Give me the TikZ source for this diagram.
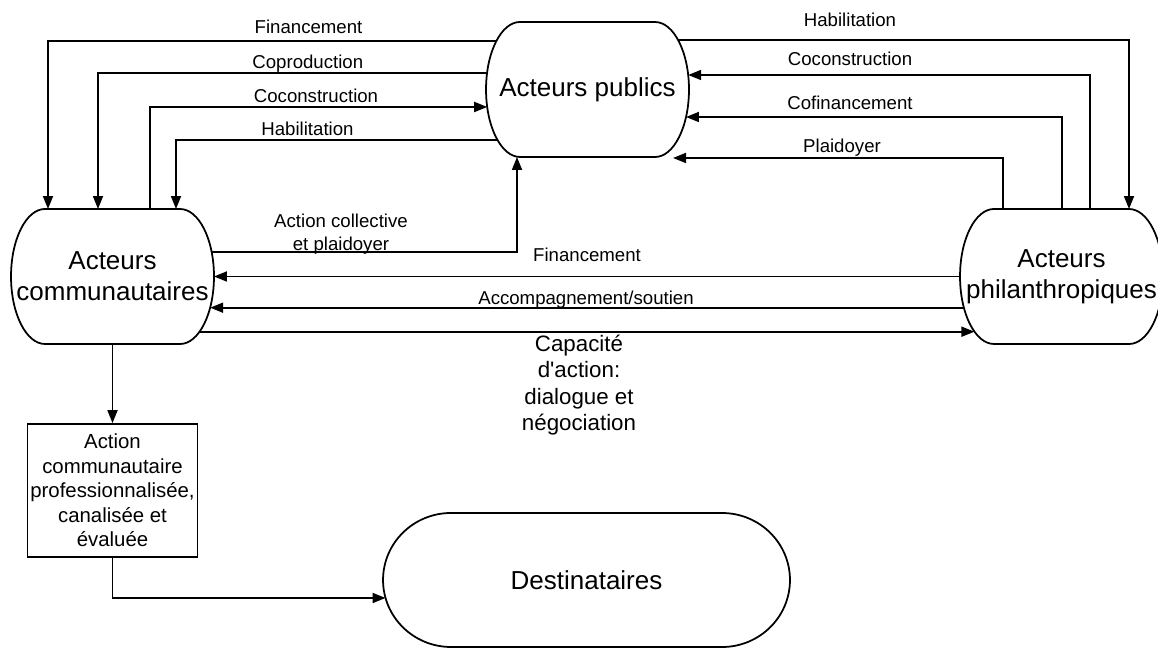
\documentclass[tikz,border=0pt]{standalone}
\usepackage{fontspec}
\setmainfont{Liberation Sans}
\usetikzlibrary{arrows.meta}

\newcommand{\drawcapsule}[3]{%
    \draw ([shift={(#2,0)}]#1.north west) -- ([shift={(-#2,0)}]#1.north east)
        arc[start angle=90, end angle=-90, x radius=#2, y radius=#3]
        -- ([shift={(#2,0)}]#1.south west)
        arc[start angle=270, end angle=90, x radius=#2, y radius=#3] -- cycle;
}

\tikzset{
    actor/.style={minimum width=4.06cm, minimum height=2.7cm, inner sep=0pt, outer sep=0pt,
        align=center, font=\fontsize{14.8}{17.6}\selectfont},
    box/.style={draw, minimum width=3.4cm, minimum height=2.66cm, inner sep=0pt, align=center,
        font=\fontsize{11.6}{14}\selectfont},
    lbl/.style={anchor=base, inner sep=0pt, font=\fontsize{10.6}{12.9}\selectfont},
    flow/.style={-{Triangle[length=0.26cm, width=0.2cm]}},
}

\begin{document}
\begin{tikzpicture}[x=0.02cm, y=0.02cm, line width=1pt]
        \useasboundingbox (0,0) rectangle (1158,648);

        \node[actor] (pub) at (587.5,558.5) {Acteurs publics};
        \node[actor] (com) at (112.5,371.5) {Acteurs\\communautaires};
        \node[actor] (phil) at (1061.5,371.5) {Acteurs\\philanthropiques};
        \node[actor, minimum width=8.14cm, minimum height=2.68cm] (dest) at (586.5,68) {Destinataires};
        \node[box] (act) at (112.5,157.5) {Action\\communautaire\\professionnalisée,\\canalisée et\\évaluée};

        \foreach \n in {pub, com, phil} {
            \drawcapsule{\n}{34}{67.5}
        }
        \drawcapsule{dest}{68}{67}

        \foreach \dx/\dy/\tx in {10.5/48.8/-64.5, 1/16.5/-14.5, 11.4/-50.5/63.5} {
            \draw[flow] ([shift={(\dx,\dy)}]pub.west) -| ([shift={(\tx,0)}]com.north);
        }
        \draw[flow] ([shift={(37.5,0)}]com.north) |- ([shift={(1.2,-17.5)}]pub.west);

        \draw[flow] ([shift={(-11,49.5)}]pub.east) -| ([shift={(67.5,0)}]phil.north);
        \foreach \sx/\dx/\dy in {28.5/-0.8/14.5, 0.5/-3/-27.5} {
            \draw[flow] ([shift={(\sx,0)}]phil.north) |- ([shift={(\dx,\dy)}]pub.east);
        }
        \draw[flow] ([shift={(-58.5,0)}]phil.north) |- ([shift={(85.5,-1)}]pub.south);

        \draw[flow] ([shift={(-2.3,24.2)}]com.east) -| ([shift={(-70.5,0)}]pub.south);
        \draw[flow] (phil.west) -- (com.east);
        \draw[flow] ([shift={(3.8,-31.2)}]phil.west) -- ([shift={(-3.8,-31.2)}]com.east);
        \draw[flow] ([shift={(-14.4,-55.2)}]com.east) -- ([shift={(14.4,-55.2)}]phil.west);
        \draw[flow] (com.south) -- (act.north);
        \draw[flow] (act.south) |- ([shift={(2.5,-18)}]dest.west);

        \foreach \t/\x/\y [count=\i] in {Financement/308.5/614, Coproduction/307.8/579,
            Coconstruction/316/545.3, Habilitation/307.5/512, Habilitation/850/621.3,
            Coconstruction/850/582, Cofinancement/850/538, Plaidoyer/842/495} {
            \node[lbl] (lab\i) at (\x,\y) {\t};
        }
        \node[lbl] (fin) at (587,386.3) {Financement};
        \node[lbl] (acc) at (586,343.7) {Accompagnement/soutien};
        \node[lbl, anchor=center, align=center] (col) at (341,414) {Action collective\\et plaidoyer};
        \node[align=center, inner sep=0pt, font=\fontsize{12.7}{15.1}\selectfont] (cap) at (579,262.8)
            {Capacité\\d\textquotesingle action:\\dialogue et\\négociation};
    \end{tikzpicture}
\end{document}
